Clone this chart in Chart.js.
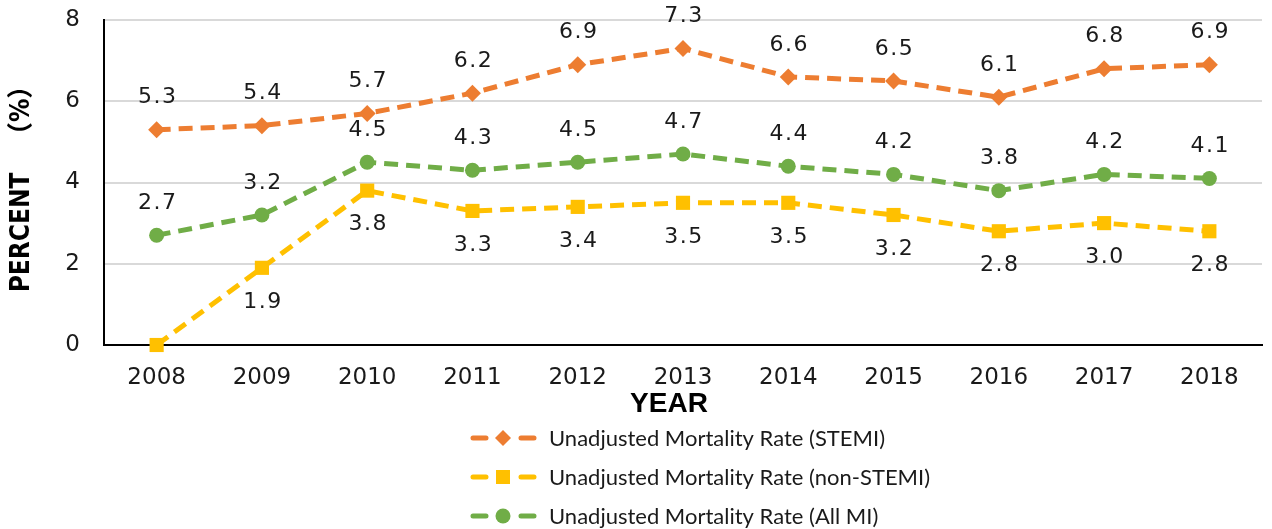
<!DOCTYPE html>
<html lang="en">
<head>
  <meta charset="UTF-8" />
  <title>Unadjusted Mortality Rate by Year</title>
  <script src="https://cdn.jsdelivr.net/npm/chart.js"></script>
  <style>
    html, body { margin: 0; padding: 0; background: #fff; }
    #wrap { position: relative; width: 1272px; height: 529px; }
  </style>
</head>
<body>
  <div id="wrap"><canvas id="chart"></canvas></div>

  <script>
    const years = ["2008", "2009", "2010", "2011", "2012", "2013", "2014", "2015", "2016", "2017", "2018"];
    const stemi = [5.3, 5.4, 5.7, 6.2, 6.9, 7.3, 6.6, 6.5, 6.1, 6.8, 6.9];
    const nonStemi = [0, 1.9, 3.8, 3.3, 3.4, 3.5, 3.5, 3.2, 2.8, 3.0, 2.8];
    const allMi = [2.7, 3.2, 4.5, 4.3, 4.5, 4.7, 4.4, 4.2, 3.8, 4.2, 4.1];
    const yTicks = [0, 2, 4, 6, 8];

    const ORANGE = "#ED7D31";
    const YELLOW = "#FFC000";
    const GREEN = "#70AD47";
    const DASH = [14, 8];
    const TICK_FONT = { family: "'DejaVu Sans'", size: 23 };

    // value labels: offset in px from the point (negative = above), skip zeros
    const labelOffsets = [-32, 34, -32];

    const valueLabels = {
      id: "valueLabels",
      afterDatasetsDraw(chart) {
        const ctx = chart.ctx;
        ctx.save();
        ctx.font = "22px 'DejaVu Sans'";
        ctx.letterSpacing = "1.5px";
        ctx.fillStyle = "#1a1a1a";
        ctx.textAlign = "center";
        ctx.textBaseline = "middle";
        chart.data.datasets.forEach((ds, i) => {
          chart.getDatasetMeta(i).data.forEach((pt, j) => {
            const v = ds.data[j];
            if (v === 0) return;
            ctx.fillText(v.toFixed(1), pt.x + 1, pt.y + labelOffsets[i]);
          });
        });
        ctx.restore();
      }
    };

    // stacked legend under the axis title: dashed line with the marker in the middle
    const stackedLegend = {
      id: "stackedLegend",
      afterDraw(chart) {
        const ctx = chart.ctx;
        const x0 = 470, rowY = [438, 477, 516];
        ctx.save();
        chart.data.datasets.forEach((ds, i) => {
          const y = rowY[i];
          ctx.strokeStyle = ds.borderColor;
          ctx.lineWidth = 5;
          ctx.lineCap = "round";
          ctx.beginPath();
          ctx.moveTo(x0 + 3, y); ctx.lineTo(x0 + 16, y);
          ctx.moveTo(x0 + 51, y); ctx.lineTo(x0 + 64, y);
          ctx.stroke();
          ctx.fillStyle = ds.backgroundColor;
          const cx = x0 + 33, r = 8;
          ctx.beginPath();
          if (ds.pointStyle === "rectRot") {
            ctx.moveTo(cx, y - r); ctx.lineTo(cx + r, y); ctx.lineTo(cx, y + r); ctx.lineTo(cx - r, y);
            ctx.closePath();
          } else if (ds.pointStyle === "rect") {
            ctx.rect(cx - 7, y - 7, 14, 14);
          } else {
            ctx.arc(cx, y, 7.5, 0, Math.PI * 2);
          }
          ctx.fill();
          ctx.fillStyle = "#1a1a1a";
          ctx.font = "22px Lato";
          ctx.textBaseline = "middle";
          ctx.textAlign = "left";
          ctx.fillText(ds.label, x0 + 79, y + 1);
        });
        ctx.restore();
      }
    };

    function series(label, data, color, style, radius) {
      return {
        label: label,
        data: data,
        borderColor: color,
        backgroundColor: color,
        borderWidth: 5,
        borderDash: DASH,
        pointStyle: style,
        pointRadius: radius,
        pointHoverRadius: radius,
        pointBorderWidth: 0,
        tension: 0,
        fill: false,
        clip: false
      };
    }

    new Chart(document.getElementById("chart"), {
      type: "line",
      data: {
        labels: years,
        datasets: [
          series("Unadjusted Mortality Rate (STEMI)", stemi, ORANGE, "rectRot", 8.5),
          series("Unadjusted Mortality Rate (non-STEMI)", nonStemi, YELLOW, "rect", 10),
          series("Unadjusted Mortality Rate (All MI)", allMi, GREEN, "circle", 7.5)
        ]
      },
      options: {
        responsive: true,
        maintainAspectRatio: false,
        animation: false,
        layout: { padding: { top: 20, right: 2, left: 0, bottom: 108 } },
        plugins: {
          legend: { display: false },
          tooltip: { enabled: false }
        },
        scales: {
          x: {
            offset: true,
            grid: { display: false, drawTicks: false },
            border: { color: "#000", width: 2 },
            ticks: { color: "#1a1a1a", font: TICK_FONT, padding: 19 },
            title: {
              display: true,
              text: "YEAR\u2002\u2002",
              color: "#000",
              font: { family: "'Liberation Sans'", size: 28, weight: "bold" },
              padding: { top: 0, bottom: 0 }
            },
            afterFit(scale) {
              scale.height = 76;
              scale.paddingLeft = 0;
              scale.paddingRight = 0;
            }
          },
          y: {
            min: 0,
            max: 8,
            afterBuildTicks(scale) { scale.ticks = yTicks.map(v => ({ value: v })); },
            grid: { color: "#d9d9d9", lineWidth: 2, drawTicks: false },
            border: { color: "#000", width: 2 },
            ticks: { color: "#1a1a1a", font: TICK_FONT, padding: 24 },
            title: {
              display: true,
              text: "PERCENT   （%）",
              color: "#000",
              font: { family: "'Liberation Sans Narrow', 'DejaVu Sans Condensed', 'Noto Sans CJK SC', sans-serif", size: 26, weight: "bold" },
              padding: { top: 7, bottom: 0 }
            },
            afterFit(scale) {
              scale.width = 104;
              scale.paddingTop = 0;
              scale.paddingBottom = 0;
            }
          }
        }
      },
      plugins: [valueLabels, stackedLegend]
    });
  </script>
</body>
</html>
